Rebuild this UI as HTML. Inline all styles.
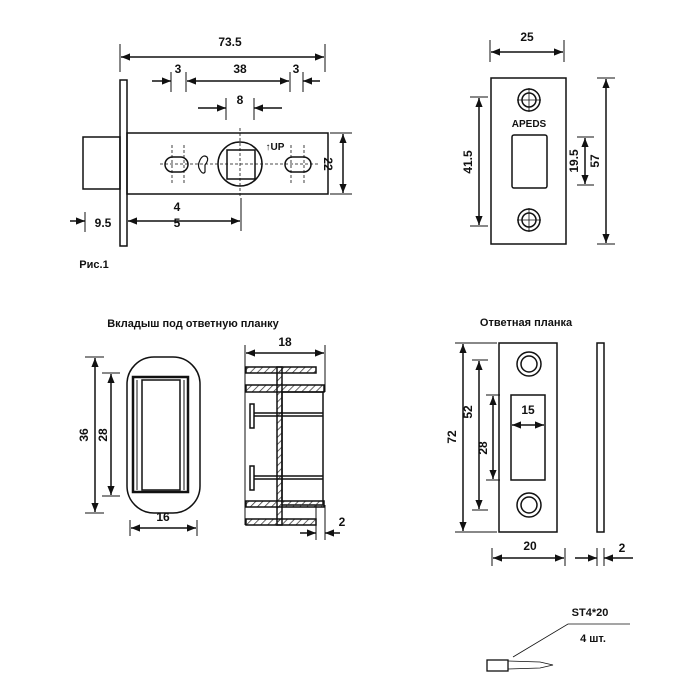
<!DOCTYPE html>
<html><head><meta charset="utf-8"><style>body{margin:0;background:#fff}svg{display:block}text{font-family:"Liberation Sans","DejaVu Sans",sans-serif;fill:#111}</style></head>
<body>
<svg width="700" height="700" viewBox="0 0 700 700" xmlns="http://www.w3.org/2000/svg">
<defs>
<marker id="a" viewBox="0 0 10 10" refX="10" refY="5" markerWidth="9" markerHeight="9" orient="auto-start-reverse" markerUnits="userSpaceOnUse"><path d="M0,1 L10,5 L0,9z" fill="#111"/></marker>
<pattern id="h" width="5" height="5" patternUnits="userSpaceOnUse" patternTransform="rotate(45)"><line x1="0" y1="0" x2="0" y2="5" stroke="#333" stroke-width="1.5"/></pattern>
</defs>
<g stroke="#111" fill="none" stroke-width="1.5">
<!-- Latch top-left -->
<line x1="120" y1="44" x2="120" y2="72" stroke-width="1"/><line x1="325" y1="44" x2="325" y2="72" stroke-width="1"/>
<line x1="121" y1="57" x2="324" y2="57" marker-start="url(#a)" marker-end="url(#a)"/>
<line x1="171" y1="72" x2="171" y2="92" stroke-width="1"/><line x1="186" y1="72" x2="186" y2="92" stroke-width="1"/>
<line x1="290" y1="72" x2="290" y2="92" stroke-width="1"/><line x1="303" y1="72" x2="303" y2="92" stroke-width="1"/>
<line x1="152" y1="81" x2="171" y2="81" marker-end="url(#a)"/><line x1="187" y1="81" x2="289" y2="81" marker-start="url(#a)" marker-end="url(#a)"/><line x1="320" y1="81" x2="303" y2="81" marker-end="url(#a)"/>
<line x1="226" y1="98" x2="226" y2="120" stroke-width="1"/><line x1="254" y1="98" x2="254" y2="120" stroke-width="1"/>
<line x1="198" y1="108" x2="226" y2="108" marker-end="url(#a)"/><line x1="282" y1="108" x2="254" y2="108" marker-end="url(#a)"/>
<rect x="120" y="80" width="7" height="166"/>
<rect x="127" y="133" width="201" height="61"/>
<rect x="83" y="137" width="37" height="52"/>
<circle cx="240" cy="164" r="22"/>
<rect x="227" y="150" width="28" height="29"/>
<rect x="165" y="157" width="23" height="15" rx="7.5"/>
<rect x="285" y="157" width="26" height="15" rx="7.5"/>
<path d="M200,170 q-3,-4 0,-10 q3,-6 7,-3 q2,3 -2,8 l0,7 q-2,3 -5,-2z" stroke-width="1.2"/>
<g stroke-width="0.8" stroke-dasharray="3,2">
<line x1="240" y1="128" x2="240" y2="198"/><line x1="160" y1="164" x2="320" y2="164"/>
<line x1="172" y1="145" x2="172" y2="185"/><line x1="184" y1="145" x2="184" y2="185"/>
<line x1="291" y1="145" x2="291" y2="185"/><line x1="304" y1="145" x2="304" y2="185"/>
</g>
<line x1="330" y1="133" x2="352" y2="133" stroke-width="1"/><line x1="330" y1="194" x2="352" y2="194" stroke-width="1"/>
<line x1="343" y1="134" x2="343" y2="193" marker-start="url(#a)" marker-end="url(#a)"/>
<line x1="85" y1="212" x2="85" y2="232" stroke-width="1"/>
<line x1="70" y1="221" x2="85" y2="221" marker-end="url(#a)"/>
<line x1="128" y1="221" x2="240" y2="221" marker-start="url(#a)" marker-end="url(#a)"/>
<line x1="241" y1="198" x2="241" y2="231" stroke-width="1"/>
<!-- top-right plate -->
<line x1="490" y1="40" x2="490" y2="62" stroke-width="1"/><line x1="564" y1="40" x2="564" y2="62" stroke-width="1"/>
<line x1="491" y1="52" x2="563" y2="52" marker-start="url(#a)" marker-end="url(#a)"/>
<rect x="491" y="78" width="75" height="166"/>
<circle cx="529" cy="100" r="11"/><circle cx="529" cy="100" r="7"/>
<circle cx="529" cy="220" r="11"/><circle cx="529" cy="220" r="7"/>
<g stroke-width="0.8"><line x1="529" y1="88" x2="529" y2="112"/><line x1="517" y1="100" x2="541" y2="100"/><line x1="529" y1="208" x2="529" y2="232"/><line x1="517" y1="220" x2="541" y2="220"/></g>
<rect x="512" y="135" width="35" height="53" rx="2"/>
<line x1="470" y1="97" x2="488" y2="97" stroke-width="1"/><line x1="470" y1="226" x2="488" y2="226" stroke-width="1"/>
<line x1="479" y1="98" x2="479" y2="225" marker-start="url(#a)" marker-end="url(#a)"/>
<line x1="577" y1="137" x2="594" y2="137" stroke-width="1"/><line x1="577" y1="185" x2="594" y2="185" stroke-width="1"/>
<line x1="585" y1="138" x2="585" y2="184" marker-start="url(#a)" marker-end="url(#a)"/>
<line x1="597" y1="78" x2="615" y2="78" stroke-width="1"/><line x1="597" y1="244" x2="615" y2="244" stroke-width="1"/>
<line x1="606" y1="79" x2="606" y2="243" marker-start="url(#a)" marker-end="url(#a)"/>
<!-- insert -->
<rect x="127" y="357" width="73" height="156" rx="27"/>
<rect x="133" y="377" width="55" height="115" stroke-width="2.5"/>
<rect x="142" y="380" width="38" height="110"/>
<line x1="137" y1="380" x2="137" y2="490" stroke-width="1"/><line x1="184" y1="380" x2="184" y2="490" stroke-width="1"/>
<line x1="85" y1="357" x2="104" y2="357" stroke-width="1"/><line x1="85" y1="513" x2="104" y2="513" stroke-width="1"/>
<line x1="95" y1="358" x2="95" y2="512" marker-start="url(#a)" marker-end="url(#a)"/>
<line x1="102" y1="373" x2="120" y2="373" stroke-width="1"/><line x1="102" y1="496" x2="120" y2="496" stroke-width="1"/>
<line x1="111" y1="374" x2="111" y2="495" marker-start="url(#a)" marker-end="url(#a)"/>
<line x1="130" y1="520" x2="130" y2="536" stroke-width="1"/><line x1="197" y1="520" x2="197" y2="536" stroke-width="1"/>
<line x1="131" y1="528" x2="196" y2="528" marker-start="url(#a)" marker-end="url(#a)"/>
<!-- section -->
<line x1="245" y1="345" x2="245" y2="525" stroke-width="1"/><line x1="325" y1="345" x2="325" y2="392" stroke-width="1"/>
<line x1="246" y1="353" x2="324" y2="353" marker-start="url(#a)" marker-end="url(#a)"/>
<rect x="246" y="367" width="70" height="6" fill="url(#h)"/>
<rect x="246" y="385" width="78" height="7" fill="url(#h)"/>
<rect x="277" y="367" width="5" height="158" fill="url(#h)"/>
<rect x="282" y="392" width="41" height="113"/>
<rect x="246" y="501" width="78" height="6" fill="url(#h)"/>
<rect x="246" y="519" width="70" height="6" fill="url(#h)"/>
<rect x="250" y="404" width="4" height="24"/><line x1="254" y1="413" x2="323" y2="413"/><line x1="254" y1="416" x2="323" y2="416"/>
<rect x="250" y="466" width="4" height="24"/><line x1="254" y1="476" x2="323" y2="476"/><line x1="254" y1="479" x2="323" y2="479"/>
<line x1="316" y1="505" x2="316" y2="540" stroke-width="1"/><line x1="325" y1="505" x2="325" y2="540" stroke-width="1"/>
<line x1="300" y1="533" x2="316" y2="533" marker-end="url(#a)"/><line x1="340" y1="533" x2="325" y2="533" marker-end="url(#a)"/>
<!-- strike plate -->
<rect x="499" y="343" width="58" height="189"/>
<rect x="597" y="343" width="7" height="189"/>
<circle cx="529" cy="364" r="12"/><circle cx="529" cy="364" r="8"/>
<circle cx="529" cy="505" r="12"/><circle cx="529" cy="505" r="8"/>
<rect x="511" y="395" width="34" height="85"/>
<line x1="512" y1="425" x2="544" y2="425" marker-start="url(#a)" marker-end="url(#a)"/>
<line x1="455" y1="343" x2="497" y2="343" stroke-width="1"/><line x1="455" y1="532" x2="497" y2="532" stroke-width="1"/>
<line x1="463" y1="344" x2="463" y2="531" marker-start="url(#a)" marker-end="url(#a)"/>
<line x1="472" y1="360" x2="488" y2="360" stroke-width="1"/><line x1="472" y1="510" x2="488" y2="510" stroke-width="1"/>
<line x1="479" y1="361" x2="479" y2="509" marker-start="url(#a)" marker-end="url(#a)"/>
<line x1="486" y1="395" x2="500" y2="395" stroke-width="1"/><line x1="486" y1="480" x2="500" y2="480" stroke-width="1"/>
<line x1="493" y1="396" x2="493" y2="479" marker-start="url(#a)" marker-end="url(#a)"/>
<line x1="492" y1="548" x2="492" y2="566" stroke-width="1"/><line x1="565" y1="548" x2="565" y2="566" stroke-width="1"/>
<line x1="493" y1="558" x2="564" y2="558" marker-start="url(#a)" marker-end="url(#a)"/>
<line x1="597" y1="548" x2="597" y2="566" stroke-width="1"/><line x1="604" y1="548" x2="604" y2="566" stroke-width="1"/>
<line x1="575" y1="558" x2="597" y2="558" marker-end="url(#a)"/><line x1="633" y1="558" x2="604" y2="558" marker-end="url(#a)"/>
<!-- screw -->
<rect x="487" y="660" width="21" height="11" stroke-width="1.3"/>
<path d="M508,661 L540,662 L553,665 L540,668 L508,669" stroke-width="0.8"/>
<path d="M513,657 L568,624 L630,624" stroke-width="0.8"/>
</g>
<g font-size="12" text-anchor="middle" font-weight="bold">
<text x="230" y="46">73.5</text><text x="178" y="73">3</text><text x="240" y="73">38</text><text x="296" y="73">3</text>
<text x="240" y="104">8</text>
<text x="275" y="150" font-size="10">↑UP</text>
<text x="0" y="0" transform="translate(324,164) rotate(90)">22</text>
<text x="177" y="211">4</text><text x="177" y="227">5</text><text x="103" y="227">9.5</text>
<text x="94" y="268" font-size="11">Рис.1</text>
<text x="527" y="41">25</text>
<text x="529" y="127" font-size="10">APEDS</text>
<text transform="translate(472,162) rotate(-90)">41.5</text>
<text transform="translate(578,161) rotate(-90)">19.5</text>
<text transform="translate(599,161) rotate(-90)">57</text>
<text x="193" y="327" font-size="11">Вкладыш под ответную планку</text>
<text transform="translate(88,435) rotate(-90)">36</text>
<text transform="translate(107,435) rotate(-90)">28</text>
<text x="163" y="521">16</text><text x="285" y="346">18</text><text x="342" y="526">2</text>
<text x="526" y="326" font-size="11">Ответная планка</text>
<text x="528" y="414">15</text>
<text transform="translate(456,437) rotate(-90)">72</text>
<text transform="translate(472,412) rotate(-90)">52</text>
<text transform="translate(487,448) rotate(-90)">28</text>
<text x="530" y="550">20</text><text x="622" y="552">2</text>
<text x="590" y="616" font-size="11">ST4*20</text><text x="593" y="642" font-size="11">4 шт.</text>
</g>
</svg>
</body></html>
